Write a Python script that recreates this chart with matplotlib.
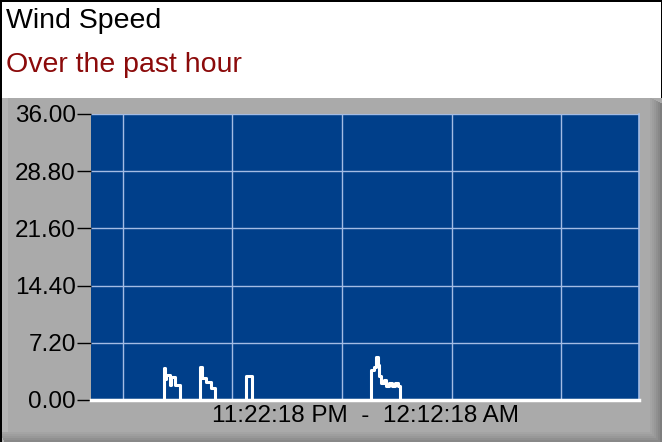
import matplotlib
matplotlib.use("Agg")
import matplotlib.pyplot as plt
from matplotlib.patches import Rectangle
import numpy as np

plt.rcParams['font.family'] = ['Liberation Sans', 'DejaVu Sans']

title = "Wind Speed"
subtitle = "Over the past hour"
x_label = "11:22:18 PM  -  12:12:18 AM"

# minutes since 11:22:18 PM, wind speed (step values)
times = [0.0, 6.66, 6.75, 6.84, 7.21, 7.30, 7.66, 8.12,
         9.94, 10.13, 10.49, 10.95, 11.31,
         14.14, 14.69,
         25.55, 25.82, 26.00, 26.19, 26.28, 26.46, 26.73, 26.92, 27.19, 27.46, 27.74, 28.01, 28.19,
         50.0]
speeds = [0.0, 4.0, 2.6, 3.1, 1.9, 2.9, 1.9, 0.0,
          4.1, 2.8, 2.3, 1.5, 0.0,
          3.0, 0.0,
          3.8, 4.2, 5.4, 4.4, 3.0, 2.1, 2.5, 1.8, 2.2, 1.8, 2.2, 1.7, 0.0,
          0.0]

y_ticks = [0.0, 7.2, 14.4, 21.6, 28.8, 36.0]
x_grid = [2.9, 12.9, 22.9, 32.9, 42.9]

W, H = 662, 442
fig = plt.figure(figsize=(W / 100, H / 100), dpi=100)
fig.patch.set_facecolor('white')

def fr(x0, y0, x1, y1, **kw):
    # rectangle in pixel coords (top-left origin)
    fig.patches.append(Rectangle((x0 / W, 1 - y1 / H), (x1 - x0) / W, (y1 - y0) / H,
                                 transform=fig.transFigure, **kw))

# gray panel with bevel
fr(0, 98, W, H, facecolor='#aaaaaa', edgecolor='none', zorder=-3)
fr(0, 98, 8, H, facecolor='#b4b4b4', edgecolor='none', zorder=-3)
for i, c in enumerate(['#a4a4a4', '#9e9e9e', '#989898', '#909090', '#888888', '#7e7e7e']):
    fr(650 + i * 2, 98 + i, 652 + i * 2, H, facecolor=c, edgecolor='none', zorder=-2)
    fr(0 + i * 1, 432 + i * 2, W - 12 + i * 2, 434 + i * 2, facecolor=c, edgecolor='none', zorder=-2)
# black outline
fr(0, 0, W, 1.5, facecolor='black', edgecolor='none', zorder=-1)
fr(0, 0, 1.5, H, facecolor='black', edgecolor='none', zorder=-1)
fr(W - 1.5, 0, W, 98, facecolor='black', edgecolor='none', zorder=-1)

fig.text(6 / W, 1 - 21 / H, title, fontsize=20.5, color='black', va='center', ha='left')
fig.text(6 / W, 1 - 65 / H, subtitle, fontsize=20.5, color='#8b0a0a', va='center', ha='left')

ax = fig.add_axes([91 / W, (H - 400) / H, 548 / W, 286 / H])
ax.set_zorder(5)
ax.set_facecolor('#003f8a')
ax.step(times, speeds, where='post', color='white', linewidth=2.2, zorder=3)
ax.set_xlim(0, 50)
ax.set_ylim(0, 36)
ax.set_yticks(y_ticks)
ax.set_yticklabels([f"{v:.2f}" for v in y_ticks])
ax.set_xticks(x_grid)
ax.set_xticklabels([])
ax.tick_params(axis='x', length=0)
ax.tick_params(axis='y', length=10, width=1, color='black', direction='out', pad=1,
               labelsize=17.5, labelcolor='black')
ax.grid(True, color='#a4bce4', linewidth=1, zorder=1)
for s in ['left', 'top']:
    ax.spines[s].set_visible(False)
ax.spines['right'].set_color('#a4bce4')
ax.spines['right'].set_linewidth(1.2)
ax.spines['bottom'].set_color('white')
ax.spines['bottom'].set_linewidth(2.5)

fig.text(365 / W, 1 - 416 / H, x_label, fontsize=17.5, color='black', va='center', ha='center')

fig.savefig('out.png', dpi=100, facecolor=fig.get_facecolor())
